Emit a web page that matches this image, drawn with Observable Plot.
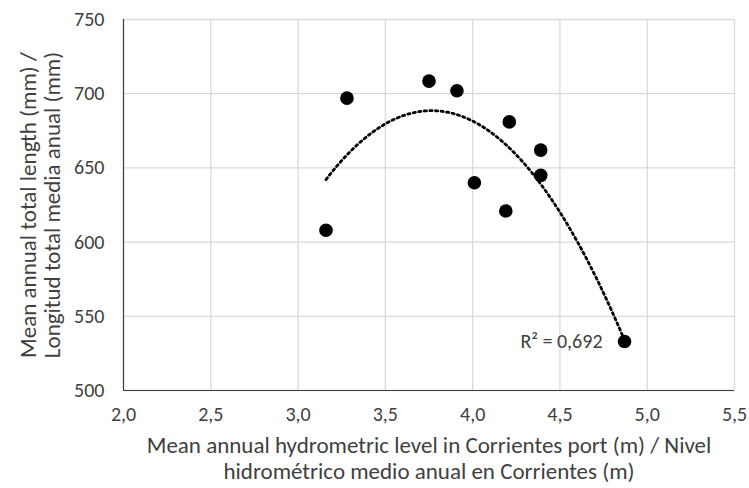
<!DOCTYPE html>
<html>
<head>
<meta charset="utf-8">
<script src="https://cdn.jsdelivr.net/npm/d3@7"></script>
<script src="https://cdn.jsdelivr.net/npm/@observablehq/plot@0.6"></script>
<style>
  html, body { margin: 0; padding: 0; background: white; }
</style>
</head>
<body>
<div id="chart"></div>
<script>
// Data
const level = [3.16, 3.28, 3.75, 3.91, 4.01, 4.19, 4.21, 4.39, 4.39, 4.87];
const length = [608, 697, 708.5, 702, 640, 621, 681, 662, 645, 533];
const xTicks = [2.0, 2.5, 3.0, 3.5, 4.0, 4.5, 5.0, 5.5];
const yTicks = [500, 550, 600, 650, 700, 750];
const r2Label = "R² = 0,692";
const xTitle = "Mean annual hydrometric level in Corrientes port (m) / Nivel\nhidrométrico medio anual en Corrientes (m)";
const yTitle = "Mean annual total length (mm) /\nLongitud total media anual (mm)";

const points = level.map((x, i) => ({x, y: length[i]}));

// Least-squares quadratic fit (order 2 polynomial trendline)
function quadFit(xs, ys) {
  const n = xs.length;
  let s = [0,0,0,0,0], t = [0,0,0];
  for (let i = 0; i < n; i++) {
    const x = xs[i], y = ys[i];
    for (let k = 0; k < 5; k++) s[k] += Math.pow(x, k);
    for (let k = 0; k < 3; k++) t[k] += y * Math.pow(x, k);
  }
  const A = [[s[0], s[1], s[2], t[0]], [s[1], s[2], s[3], t[1]], [s[2], s[3], s[4], t[2]]];
  for (let i = 0; i < 3; i++) {
    let p = i;
    for (let r = i + 1; r < 3; r++) if (Math.abs(A[r][i]) > Math.abs(A[p][i])) p = r;
    [A[i], A[p]] = [A[p], A[i]];
    for (let r = 0; r < 3; r++) {
      if (r === i) continue;
      const f = A[r][i] / A[i][i];
      for (let c = i; c < 4; c++) A[r][c] -= f * A[i][c];
    }
  }
  return [A[0][3] / A[0][0], A[1][3] / A[1][1], A[2][3] / A[2][2]];
}
const [c0, c1, c2] = quadFit(level, length);
const xmin = d3.min(level), xmax = d3.max(level);
const trend = d3.range(0, 201).map(i => {
  const x = xmin + (xmax - xmin) * i / 200;
  return {x, y: c0 + c1 * x + c2 * x * x};
});

const fmt = d => d.toFixed(1).replace(".", ",");
const last = points[points.length - 1];

const chart = Plot.plot({
  width: 749,
  height: 488,
  marginTop: 19,
  marginRight: 15,
  marginBottom: 98,
  marginLeft: 123,
  style: {fontFamily: "Carlito, 'Open Sans', sans-serif", fontSize: "20px", background: "white", color: "#595959"},
  x: {domain: [2, 5.5]},
  y: {domain: [500, 750]},
  marks: [
    Plot.gridX(xTicks, {stroke: "#d9d9d9", strokeOpacity: 1, strokeWidth: 1.3}),
    Plot.gridY(yTicks, {stroke: "#d9d9d9", strokeOpacity: 1, strokeWidth: 1.3}),
    Plot.axisX(xTicks, {tickSize: 0, tickPadding: 16, tickFormat: fmt, label: null, fontSize: 20, fill: "#404040"}),
    Plot.axisY(yTicks, {tickSize: 0, tickPadding: 19, label: null, fontSize: 20, fill: "#404040"}),
    Plot.ruleX([2], {stroke: "#404040", strokeWidth: 1.2}),
    Plot.ruleY([500], {stroke: "#404040", strokeWidth: 1.2}),
    Plot.line(trend, {x: "x", y: "y", stroke: "black", strokeWidth: 2.8, strokeDasharray: "2.2,3.4"}),
    Plot.dot(points, {x: "x", y: "y", r: 6.8, fill: "black", stroke: "none"}),
    Plot.text([last], {x: "x", y: "y", text: () => r2Label, textAnchor: "end", dx: -22, fontSize: 20, fill: "#404040"}),
    Plot.text([xTitle], {frameAnchor: "bottom", text: d => d, dy: 67, fontSize: 23, lineHeight: 1.15, textAnchor: "middle", lineAnchor: "middle", fill: "#404040"}),
    Plot.text([yTitle], {frameAnchor: "left", text: d => d, rotate: -90, dx: -83, fontSize: 23, lineHeight: 1.05, textAnchor: "middle", lineAnchor: "middle", fill: "#404040"})
  ]
});
document.getElementById("chart").appendChild(chart);
</script>
</body>
</html>
